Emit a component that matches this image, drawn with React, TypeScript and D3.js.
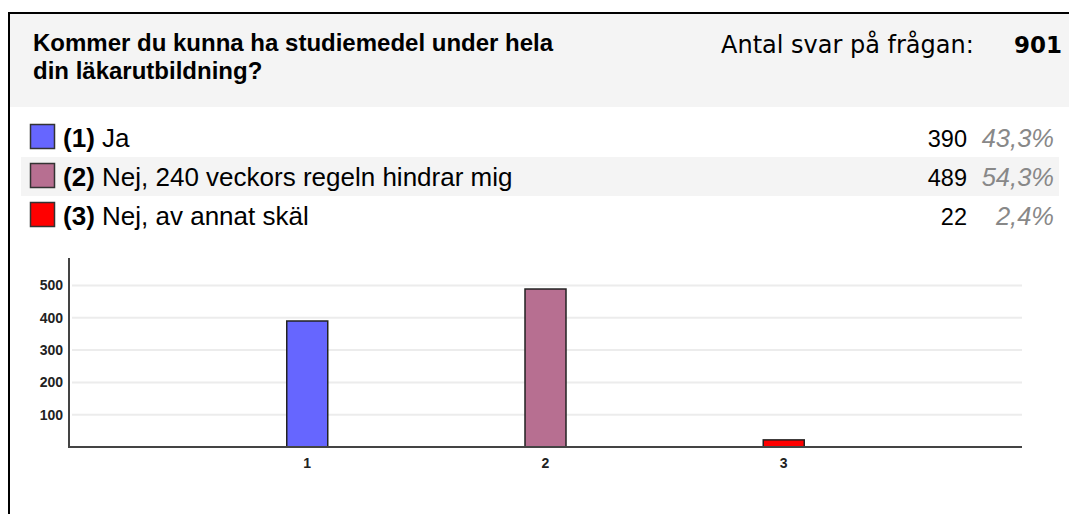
import React from "react";
import * as d3 from "d3";

const title = ["Kommer du kunna ha studiemedel under hela", "din läkarutbildning?"];
const totalLabel = "Antal svar på frågan:";
const categories = ["1", "2", "3"];
const optionLabels = ["Ja", "Nej, 240 veckors regeln hindrar mig", "Nej, av annat skäl"];
const counts = [390, 489, 22];
const colors = ["#6666ff", "#b76f91", "#ff0000"];
const yTicks = [100, 200, 300, 400, 500];
const yAxisMax = 585;

const W = 1069;
const H = 514;

export default function App() {
  const total = d3.sum(counts);
  const pct = (v: number) => d3.format(".1f")((v / total) * 100).replace(".", ",") + "%";

  const x = d3.scaleLinear().domain([0, categories.length + 1]).range([69, 1022]);
  const y = d3.scaleLinear().domain([0, yAxisMax]).range([447, 258]);
  const barW = 41;

  const sans = "'Liberation Sans', Arial, Helvetica, sans-serif";
  const verdana = "'DejaVu Sans', Verdana, sans-serif";

  return (
    <svg width={W} height={H} style={{ position: "absolute", left: 0, top: 0, background: "#fff" }}>
      {/* header */}
      <rect x={10} y={14} width={W - 10} height={93} fill="#f4f4f4" />
      <line x1={8} x2={W} y1={13} y2={13} stroke="#000" strokeWidth={2} />
      <line x1={9} x2={9} y1={12} y2={H} stroke="#000" strokeWidth={2} />
      {title.map((t, i) => (
        <text key={i} x={33} y={51 + i * 28} fontFamily={sans} fontWeight="bold" fontSize={24} fill="#000">
          {t}
        </text>
      ))}
      <text x={721} y={53} fontFamily={verdana} fontSize={24} fill="#000">
        {totalLabel}
      </text>
      <text x={1062} y={53} fontFamily={verdana} fontSize={23} fontWeight="bold" textAnchor="end" fill="#000">
        {total}
      </text>

      {/* legend rows */}
      {categories.map((c, i) => {
        const top = 118 + i * 39;
        return (
          <g key={c}>
            {i % 2 === 1 && <rect x={21} y={top} width={1038} height={39} fill="#f4f4f4" />}
            <rect x={30.5} y={top + 6.5} width={24} height={24} fill={colors[i]} stroke="#333" strokeWidth={1.5} />
            <text x={63} y={top + 28.5} fontFamily={sans} fontSize={26} fill="#000">
              <tspan fontWeight="bold">({c})</tspan> {optionLabels[i]}
            </text>
            <text x={967} y={top + 28.5} fontFamily={sans} fontSize={23.5} textAnchor="end" fill="#000">
              {counts[i]}
            </text>
            <text x={1054} y={top + 28.5} fontFamily={sans} fontSize={25.5} fontStyle="italic" textAnchor="end" fill="#888">
              {pct(counts[i])}
            </text>
          </g>
        );
      })}

      {/* chart */}
      {yTicks.map((t) => (
        <g key={t}>
          <line x1={72} x2={1022} y1={y(t)} y2={y(t)} stroke="#ececec" strokeWidth={2} />
          <text x={63} y={y(t)} dy="0.35em" textAnchor="end" fontFamily={sans} fontWeight="bold" fontSize={14} fill="#222">
            {t}
          </text>
        </g>
      ))}
      {categories.map((c, i) => (
        <rect
          key={c}
          x={x(i + 1) - barW / 2}
          y={y(counts[i])}
          width={barW}
          height={y(0) - y(counts[i])}
          fill={colors[i]}
          stroke="#222"
          strokeWidth={1.5}
        />
      ))}
      <line x1={69} x2={69} y1={y(yAxisMax)} y2={y(0) + 1} stroke="#444" strokeWidth={2} />
      <line x1={68} x2={1022} y1={y(0)} y2={y(0)} stroke="#444" strokeWidth={2} />
      {categories.map((c, i) => (
        <text key={c} x={x(i + 1)} y={463} dy="0.35em" textAnchor="middle" fontFamily={sans} fontWeight="bold" fontSize={14} fill="#222">
          {c}
        </text>
      ))}
    </svg>
  );
}
